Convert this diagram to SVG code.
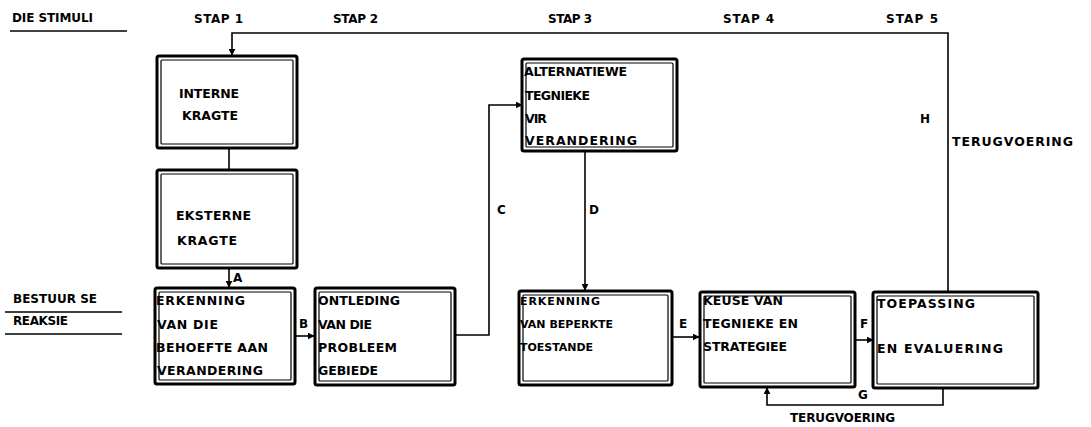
<svg xmlns="http://www.w3.org/2000/svg" width="1091" height="427" viewBox="0 0 1091 427">
<style>
text{font-family:"DejaVu Sans","Liberation Sans",Arial,sans-serif;font-weight:bold;font-size:12.5px;fill:#000}
.lb{font-size:12px}
.sm{font-size:11px}
.outer{fill:#fff;stroke:#000;stroke-width:3}
.inner{fill:none;stroke:#000;stroke-width:1.2}
.ln{fill:none;stroke:#000;stroke-width:1.6}
.rule{stroke:#000;stroke-width:1.6}
</style>
<defs>
<marker id="ah" viewBox="0 0 10 10" refX="9" refY="5" markerWidth="7" markerHeight="7" orient="auto" markerUnits="userSpaceOnUse">
<path d="M0,0 L10,5 L0,10 Z" fill="#000"/>
</marker>
</defs>
<rect width="1091" height="427" fill="#fff"/>
<g id="labels">
<text class="lb" x="12" y="22" textLength="81">DIE STIMULI</text>
<line class="rule" x1="10" y1="31" x2="127" y2="31"/>
<text class="lb" x="13" y="303" textLength="84">BESTUUR SE</text>
<line class="rule" x1="5" y1="312" x2="122" y2="312"/>
<text class="lb" x="13" y="325" textLength="55">REAKSIE</text>
<line class="rule" x1="5" y1="334" x2="122" y2="334"/>
<text class="lb" x="194" y="23" textLength="49">STAP 1</text>
<text class="lb" x="333" y="23" textLength="45">STAP 2</text>
<text class="lb" x="548" y="23" textLength="44">STAP 3</text>
<text class="lb" x="723" y="23" textLength="51">STAP 4</text>
<text class="lb" x="886" y="23" textLength="52">STAP 5</text>
</g>
<g id="connectors">
<polyline class="ln" points="948,291 948,33 232,33 232,55" marker-end="url(#ah)"/>
<line class="ln" x1="229" y1="148" x2="229" y2="170"/>
<line class="ln" x1="229" y1="268" x2="229" y2="287" marker-end="url(#ah)"/>
<text class="lb" x="233" y="282">A</text>
<line class="ln" x1="295" y1="336" x2="314" y2="336" marker-end="url(#ah)"/>
<text class="lb" x="299" y="328">B</text>
<polyline class="ln" points="455,335 489,335 489,105 522,105" marker-end="url(#ah)"/>
<text class="lb" x="497" y="214">C</text>
<line class="ln" x1="585" y1="151" x2="585" y2="290" marker-end="url(#ah)"/>
<text class="lb" x="589" y="214">D</text>
<line class="ln" x1="672" y1="337" x2="699" y2="337" marker-end="url(#ah)"/>
<text class="lb" x="679" y="328">E</text>
<line class="ln" x1="855" y1="340" x2="873" y2="340" marker-end="url(#ah)"/>
<text class="lb" x="860" y="328">F</text>
<polyline class="ln" points="943,388 943,405 767,405 767,388" marker-end="url(#ah)"/>
<text class="lb" x="858" y="399">G</text>
<text class="lb" x="790" y="422" textLength="105">TERUGVOERING</text>
<text class="lb" x="920" y="123">H</text>
<text x="952" y="146" textLength="121">TERUGVOERING</text>
</g>
<g id="interne">
<rect class="outer" x="157" y="56" width="140" height="92" rx="2"/>
<rect class="inner" x="161" y="60" width="132" height="84" rx="1"/>
<text x="179" y="98" textLength="60">INTERNE</text>
<text x="182" y="120" textLength="56">KRAGTE</text>
</g>
<g id="eksterne">
<rect class="outer" x="157" y="170" width="140" height="98" rx="2"/>
<rect class="inner" x="161" y="174" width="132" height="90" rx="1"/>
<text x="176" y="220" textLength="75">EKSTERNE</text>
<text x="177" y="245" textLength="60">KRAGTE</text>
</g>
<g id="erkenning">
<rect class="outer" x="155" y="288" width="140" height="96" rx="2"/>
<rect class="inner" x="159" y="292" width="132" height="88" rx="1"/>
<text x="156" y="305" textLength="89">ERKENNING</text>
<text x="157" y="329" textLength="61">VAN DIE</text>
<text x="156" y="352" textLength="112">BEHOEFTE AAN</text>
<text x="157" y="375" textLength="106">VERANDERING</text>
</g>
<g id="ontleding">
<rect class="outer" x="315" y="288" width="140" height="97" rx="2"/>
<rect class="inner" x="319" y="292" width="132" height="89" rx="1"/>
<text x="318" y="305" textLength="82">ONTLEDING</text>
<text x="318" y="329" textLength="54">VAN DIE</text>
<text x="318" y="352" textLength="79">PROBLEEM</text>
<text x="318" y="375" textLength="60">GEBIEDE</text>
</g>
<g id="alternatiewe">
<rect class="outer" x="522" y="59" width="155" height="92" rx="2"/>
<rect class="inner" x="526" y="63" width="147" height="84" rx="1"/>
<text x="524" y="76" textLength="103">ALTERNATIEWE</text>
<text x="525" y="100" textLength="65">TEGNIEKE</text>
<text x="525" y="123" textLength="22">VIR</text>
<text x="525" y="145" textLength="112">VERANDERING</text>
</g>
<g id="beperkte">
<rect class="outer" x="519" y="291" width="153" height="94" rx="2"/>
<rect class="inner" x="523" y="295" width="145" height="86" rx="1"/>
<text class="sm" x="520" y="305" textLength="80">ERKENNING</text>
<text class="sm" x="520" y="328" textLength="93">VAN BEPERKTE</text>
<text class="sm" x="520" y="351" textLength="73">TOESTANDE</text>
</g>
<g id="keuse">
<rect class="outer" x="700" y="292" width="155" height="95" rx="2"/>
<rect class="inner" x="704" y="296" width="147" height="87" rx="1"/>
<text x="703" y="305" textLength="80">KEUSE VAN</text>
<text x="703" y="328" textLength="95">TEGNIEKE EN</text>
<text x="703" y="351" textLength="84">STRATEGIEE</text>
</g>
<g id="toepassing">
<rect class="outer" x="873" y="292" width="165" height="96" rx="2"/>
<rect class="inner" x="877" y="296" width="157" height="88" rx="1"/>
<text x="877" y="308" textLength="98">TOEPASSING</text>
<text x="877" y="353" textLength="126">EN EVALUERING</text>
</g>
</svg>
